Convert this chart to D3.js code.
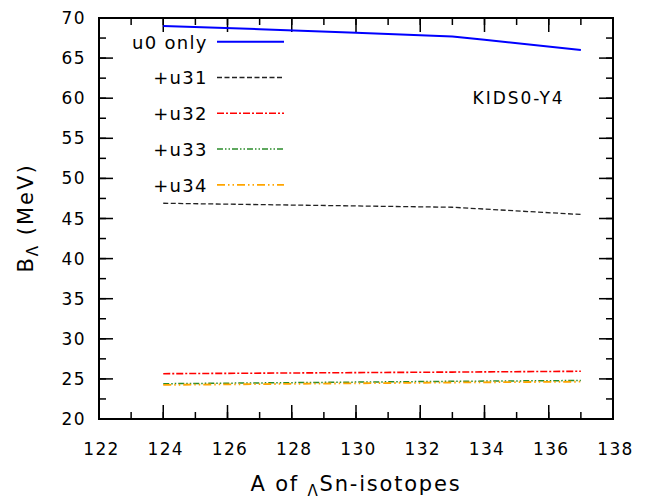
<!DOCTYPE html>
<html>
<head>
<meta charset="utf-8">
<script src="https://cdn.jsdelivr.net/npm/d3@7"></script>
<style>
  body { margin: 0; background: #fff; }
  text { font-family: "DejaVu Sans", sans-serif; }
</style>
</head>
<body>
<svg id="chart" width="658" height="499"></svg>
<script>
'use strict';

// isotopes and binding energies
const massU0 = [124, 127, 130, 133, 134, 137];
const bU0 = [69.0, 68.6, 68.15, 67.7, 67.3, 66.0];
const massRest = [124, 133, 137];
const bU31 = [46.9, 46.4, 45.5];
const bU32 = [25.65, 25.85, 25.95];
const bU33 = [24.4, 24.7, 24.8];
const bU34 = [24.25, 24.55, 24.65];
const seriesNames = ['u0 only', '+u31', '+u32', '+u33', '+u34'];
const xTicks = [122, 124, 126, 128, 130, 132, 134, 136, 138];
const yTicks = [20, 25, 30, 35, 40, 45, 50, 55, 60, 65, 70];

const series = [
  {name: seriesNames[0], xs: massU0, ys: bU0, color: '#0000ff', dash: null, width: 2},
  {name: seriesNames[1], xs: massRest, ys: bU31, color: '#222222', dash: '5,2.5', width: 1.3},
  {name: seriesNames[2], xs: massRest, ys: bU32, color: '#ff0000', dash: '7,2,2,2', width: 1.6},
  {name: seriesNames[3], xs: massRest, ys: bU33, color: '#2a8c2a', dash: '6,2,1.5,2,1.5,2', width: 1.5},
  {name: seriesNames[4], xs: massRest, ys: bU34, color: '#ffa500', dash: '8,3,1.5,3,1.5,3', width: 1.8}
];

const pLeft = 99, pRight = 613, pTop = 18, pBottom = 419;
const fs = 17, ls = 1.3;
const svg = d3.select('#chart');

const x = d3.scaleLinear().domain([122, 138]).range([pLeft, pRight]);
const y = d3.scaleLinear().domain([20, 70]).range([pBottom, pTop]);

const minorX = d3.range(122, 139, 1);
const minorY = d3.range(20, 70.1, 2.5);

// ticks on all four sides, pointing inward
function xticks(vals, len) {
  const g = svg.append('g').attr('stroke', '#000').attr('stroke-width', 1.5);
  vals.forEach(v => {
    g.append('line').attr('x1', x(v)).attr('x2', x(v)).attr('y1', pBottom).attr('y2', pBottom - len);
    g.append('line').attr('x1', x(v)).attr('x2', x(v)).attr('y1', pTop).attr('y2', pTop + len);
  });
}
xticks(minorX, 7);
xticks(xTicks, 14);
function yticks(vals, len) {
  const g = svg.append('g').attr('stroke', '#000').attr('stroke-width', 1.5);
  vals.forEach(v => {
    g.append('line').attr('y1', y(v)).attr('y2', y(v)).attr('x1', pLeft).attr('x2', pLeft + len);
    g.append('line').attr('y1', y(v)).attr('y2', y(v)).attr('x1', pRight).attr('x2', pRight - len);
  });
}
yticks(minorY, 7);
yticks(yTicks, 14);

// tick labels
svg.append('g').selectAll('text').data(xTicks).enter().append('text')
    .attr('x', d => x(d) + 2.5).attr('y', pBottom + 36)
    .attr('text-anchor', 'middle').attr('font-size', fs).attr('letter-spacing', ls)
    .text(d => d);
svg.append('g').selectAll('text').data(yTicks).enter().append('text')
    .attr('x', 84.5 + ls).attr('y', d => y(d) + 6)
    .attr('text-anchor', 'end').attr('font-size', fs).attr('letter-spacing', ls)
    .text(d => d);

// data lines
const line = d3.line().x(d => x(d[0])).y(d => y(d[1]));
series.forEach(s => {
  svg.append('path')
      .datum(s.xs.map((v, i) => [v, s.ys[i]]))
      .attr('fill', 'none')
      .attr('stroke', s.color)
      .attr('stroke-width', s.width)
      .attr('stroke-dasharray', s.dash)
      .attr('d', line);
});

// legend
series.forEach((s, i) => {
  const ly = 41.7 + i * 35.8;
  svg.append('text')
      .attr('x', 206.5 + 1.3).attr('y', ly + 6.8)
      .attr('text-anchor', 'end').attr('font-size', 18).attr('letter-spacing', 1.3)
      .text(s.name);
  svg.append('line')
      .attr('x1', 217).attr('x2', 284).attr('y1', ly).attr('y2', ly)
      .attr('stroke', s.color)
      .attr('stroke-width', s.width)
      .attr('stroke-dasharray', s.dash);
});

svg.append('text')
    .attr('x', 472.5).attr('y', 104)
    .attr('font-size', fs).attr('letter-spacing', 2)
    .text('KIDS0-Y4');

// frame
svg.append('rect')
    .attr('x', pLeft).attr('y', pTop)
    .attr('width', pRight - pLeft).attr('height', pBottom - pTop)
    .attr('fill', 'none').attr('stroke', '#000').attr('stroke-width', 2);

// axis titles
const xt = svg.append('text')
    .attr('x', 356).attr('y', 491)
    .attr('text-anchor', 'middle').attr('font-size', 21).attr('letter-spacing', 1.8);
xt.append('tspan').text('A of ');
xt.append('tspan').attr('font-size', 15).attr('dy', 5).text('Λ');
xt.append('tspan').attr('dy', -5).text('Sn-isotopes');

const yt = svg.append('text')
    .attr('transform', 'translate(33,218) rotate(-90)')
    .attr('text-anchor', 'middle').attr('font-size', 21).attr('letter-spacing', 2);
yt.append('tspan').text('B');
yt.append('tspan').attr('font-size', 15).attr('dy', 5).text('Λ');
yt.append('tspan').attr('dy', -5).text(' (MeV)');
</script>
</body>
</html>
